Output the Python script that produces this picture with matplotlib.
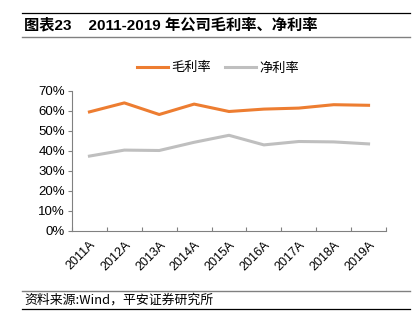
import matplotlib
matplotlib.use('Agg')
import matplotlib.pyplot as plt
from matplotlib.lines import Line2D

plt.rcParams['font.family'] = ['Noto Sans CJK SC', 'DejaVu Sans']

years = ['2011A', '2012A', '2013A', '2014A', '2015A', '2016A', '2017A', '2018A', '2019A']
gross = [59.3, 63.8, 58.0, 63.2, 59.5, 60.7, 61.2, 62.9, 62.6]
net = [37.2, 40.2, 40.0, 44.1, 47.6, 42.8, 44.5, 44.3, 43.3]

W, H = 420, 329
fig = plt.figure(figsize=(4.2, 3.29), dpi=100)

def fx(px):
    return px / W

def fy(py):
    return 1 - py / H

# axes: x 72..386, y 90.5..230.5
ax = fig.add_axes([fx(72), fy(230.5), fx(386) - fx(72), fy(90.5) - fy(230.5)])
x = range(len(years))
ax.plot(x, gross, color='#ED7D31', lw=2.2, label='毛利率')
ax.plot(x, net, color='#BFBFBF', lw=2.2, label='净利率')
ax.set_xlim(-0.5, len(years) - 0.5)
ax.set_ylim(0, 70)
ax.set_yticks(range(0, 71, 10))
ax.set_yticklabels([f'{v}%' for v in range(0, 71, 10)], fontsize=9.5, family=['Liberation Sans'])
ax.set_xticks([i - 0.5 for i in range(len(years) + 1)], minor=False)
ax.set_xticklabels([''] * (len(years) + 1))
ax.set_xticks(list(x), minor=True)
ax.set_xticklabels(years, minor=True, rotation=45, ha='right', rotation_mode='anchor',
                   fontsize=9, family=['Liberation Sans'])
ax.tick_params(axis='x', which='minor', length=0, pad=6)
ax.tick_params(axis='x', which='major', length=3, direction='in', color='#808080')
ax.tick_params(axis='y', length=3, color='#808080', pad=2)
for s in ['top', 'right']:
    ax.spines[s].set_visible(False)
for s in ['left', 'bottom']:
    ax.spines[s].set_color('#808080')
    ax.spines[s].set_linewidth(0.8)

ax.legend(loc='center', bbox_to_anchor=((fx(218) - fx(72)) / (fx(386) - fx(72)), (fy(68) - fy(230.5)) / (fy(90.5) - fy(230.5))),
          ncol=2, frameon=False, fontsize=9.5, handlelength=2.4, columnspacing=1.0, handletextpad=0.25,
          borderpad=0, borderaxespad=0)

# title block
fig.add_artist(Line2D([fx(22), fx(410)], [fy(13), fy(13)], color='black', lw=0.9))
fig.add_artist(Line2D([fx(22), fx(410)], [fy(37), fy(37)], color='#808080', lw=1.0))
fig.text(fx(24), fy(25), '图表23    2011-2019 年公司毛利率、净利率', fontsize=11,
         fontweight='bold', va='center', ha='left',
         family=['Liberation Sans', 'Noto Sans CJK SC'])

# footer
fig.add_artist(Line2D([fx(22), fx(410)], [fy(291), fy(291)], color='#808080', lw=1.0))
fig.add_artist(Line2D([fx(22), fx(410)], [fy(309), fy(309)], color='black', lw=0.9))
fig.text(fx(24), fy(300), '资料来源:Wind，平安证券研究所', fontsize=9.3, style='italic',
         va='center', ha='left')

fig.savefig('out.png', dpi=100)
